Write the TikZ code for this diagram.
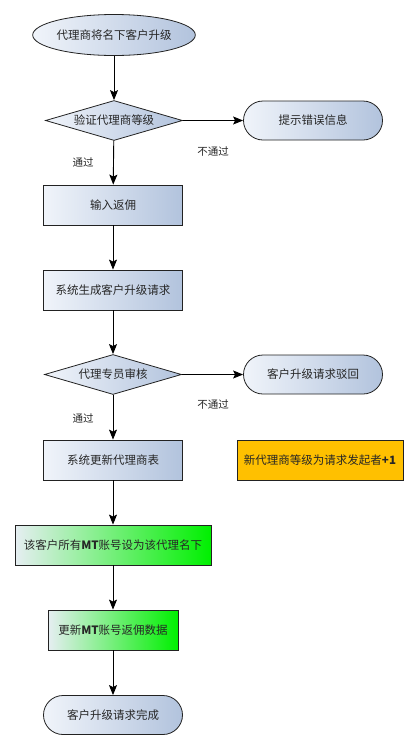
\documentclass[tikz,border=0pt]{standalone}
\usepackage{fontspec}
\setmainfont{Noto Sans CJK SC}
\usetikzlibrary{arrows.meta,shapes.geometric,shapes.misc}
\definecolor{boxlight}{HTML}{F0F4FA}
\definecolor{boxdark}{HTML}{B2C3DD}
\definecolor{greenlight}{HTML}{E6EEF2}
\definecolor{greendark}{HTML}{00F000}
\definecolor{notebg}{HTML}{FFC000}
\definecolor{edgegray}{HTML}{222222}
\tikzset{
  base/.style={draw=edgegray, line width=0.8pt, font=\fontsize{11.5}{13}\selectfont, text=black!85, inner sep=0pt},
  bluefill/.style={left color=boxlight, right color=boxdark},
  terminal/.style={base, bluefill, rounded rectangle, minimum width=139pt, minimum height=39pt},
  startell/.style={base, bluefill, ellipse, minimum width=139pt, minimum height=41pt},
  decision/.style={base, bluefill, diamond, aspect=3.4, minimum width=137pt, minimum height=40pt},
  procbox/.style={base, bluefill, rectangle, minimum width=139pt, minimum height=40pt},
  greenbox/.style={base, rectangle, left color=greenlight, right color=greendark, minimum height=40pt},
  notebox/.style={base, rectangle, fill=notebg, minimum width=166pt, minimum height=40pt},
  flow/.style={draw=black, line width=0.9pt, -{Stealth[length=10pt,width=8pt,inset=2pt]}},
  tag/.style={font=\fontsize{10.5}{12}\selectfont, text=black!85}
}
\begin{document}
\begin{tikzpicture}[x=1pt,y=-1pt]
  \useasboundingbox (0,0) rectangle (418,750);
  \fill[white] (0,0) rectangle (418,750);

  \node[startell] (start) at (114,35) {代理商将名下客户升级};
  \node[decision] (check) at (114,120.5) {验证代理商等级};
  \node[terminal] (err) at (313,120.5) {提示错误信息};
  \node[procbox] (input) at (113,205) {输入返佣};
  \node[procbox] (gen) at (113,290) {系统生成客户升级请求};
  \node[decision] (review) at (113,374.5) {代理专员审核};
  \node[terminal] (reject) at (313,374.5) {客户升级请求驳回};
  \node[procbox] (update) at (113,460) {系统更新代理商表};
  \node[notebox] (note) at (320,460) {新代理商等级为请求发起者\textbf{+1}};
  \node[greenbox, minimum width=196pt] (assign) at (113,545) {该客户所有\textbf{MT}账号设为该代理名下};
  \node[greenbox, minimum width=130pt] (rebate) at (113,630) {更新\textbf{MT}账号返佣数据};
  \node[terminal] (done) at (113,715) {客户升级请求完成};

  \node[tag] (pass1) at (83,162) {通过};
  \node[tag] (fail1) at (213,152) {不通过};
  \node[tag] (pass2) at (83,418) {通过};
  \node[tag] (fail2) at (213,405) {不通过};

  \draw[flow] (start) -- (check);
  \draw[flow] (check.east) -- (err.west);
  \draw[flow] (check) -- (input);
  \draw[flow] (input) -- (gen);
  \draw[flow] (gen) -- (review);
  \draw[flow] (review.east) -- (reject.west);
  \draw[flow] (review) -- (update);
  \draw[flow] (update) -- (assign);
  \draw[flow] (assign) -- (rebate);
  \draw[flow] (rebate) -- (done);
\end{tikzpicture}
\end{document}
